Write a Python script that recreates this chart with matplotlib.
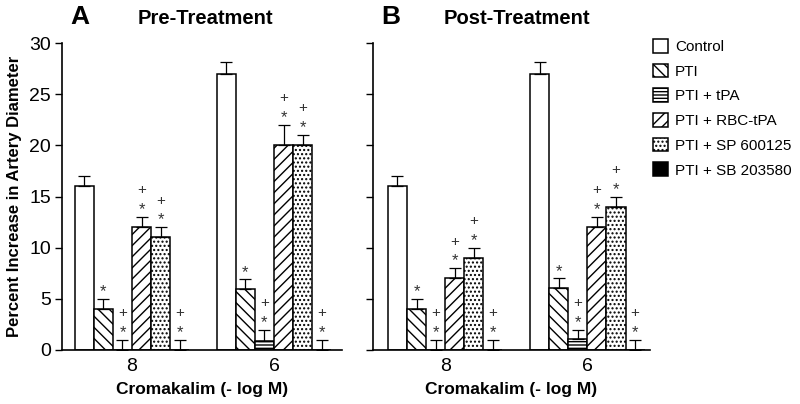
import matplotlib
matplotlib.use("Agg")
import matplotlib.pyplot as plt
import numpy as np

plt.rcParams['font.family'] = ['Liberation Sans', 'DejaVu Sans']
plt.rcParams['hatch.linewidth'] = 1.0

# data
doses = ['8', '6']
groups = ['Control', 'PTI', 'PTI + tPA', 'PTI + RBC-tPA', 'PTI + SP 600125', 'PTI + SB 203580']
pre_mean = [[16, 4, 0, 12, 11, 0],
            [27, 6, 0.9, 20, 20, 0]]
pre_err = [[1, 1, 1, 1, 1, 1],
           [1.1, 0.9, 1.1, 2, 1, 1]]
post_mean = [[16, 4, 0, 7, 9, 0],
             [27, 6.1, 1.1, 12, 14, 0]]
post_err = [[1, 1, 1, 1, 1, 1],
            [1.1, 0.9, 0.9, 1, 1, 1]]
# significance marks per bar: '' , '*', or '*+'
marks = ['', '*', '*+', '*+', '*+', '*+']

hatches = ['', '\\\\\\', '-----', '///', '....', '']
faces = ['white', 'white', 'white', 'white', 'white', 'black']

fig = plt.figure(figsize=(8, 4.04), dpi=100)
axA = fig.add_axes([62/800, 1-350/404, 280/800, 307/404])
axB = fig.add_axes([373/800, 1-350/404, 277/800, 307/404])

w = 0.134


def draw(ax, means, errs, xlim):
    xg = np.arange(len(doses))
    for i in range(len(groups)):
        xs = xg + (i - 2.5) * w
        vals = [means[g][i] for g in range(len(doses))]
        ev = [errs[g][i] for g in range(len(doses))]
        ax.bar(xs, vals, width=w, facecolor=faces[i], edgecolor='black',
               hatch=hatches[i], linewidth=1.1, label=groups[i], zorder=2)
        ax.errorbar(xs, vals, yerr=[[0]*len(vals), ev], fmt='none',
                    ecolor='black', elinewidth=0.9, capsize=4, capthick=0.9, zorder=3)
        for x, v, e in zip(xs, vals, ev):
            top = v + e
            if '*' in marks[i]:
                ax.text(x, top + 0.7, '*', ha='center', va='center', fontsize=12, color='#333333')
            if '+' in marks[i]:
                ax.text(x, top + 2.6, '+', ha='center', va='center', fontsize=11, color='#333333')
    ax.set_xlim(*xlim)
    ax.set_ylim(0, 30)
    ax.set_yticks([0, 5, 10, 15, 20, 25, 30])
    ax.set_xticks(xg)
    ax.set_xticklabels(doses, fontsize=14)
    ax.tick_params(axis='x', length=0, pad=6)
    ax.tick_params(axis='y', direction='out', length=5, width=1.0, labelsize=14, pad=3)
    ax.spines['top'].set_visible(False)
    ax.spines['right'].set_visible(False)
    ax.spines['left'].set_linewidth(1.2)
    ax.spines['bottom'].set_linewidth(1.2)
    ax.set_xlabel('Cromakalim (- log M)', fontsize=12.5, fontweight='bold', labelpad=5)


draw(axA, pre_mean, pre_err, (-0.493, 1.479))
draw(axB, post_mean, post_err, (-0.507, 1.44))
axB.set_yticklabels([])
axA.set_ylabel('Percent Increase in Artery Diameter', fontsize=12, fontweight='bold', labelpad=5)

fig.text(80/800, 1-17/404, 'A', fontsize=19, fontweight='bold', ha='center', va='center')
fig.text(205/800, 1-18/404, 'Pre-Treatment', fontsize=14.5, fontweight='bold', ha='center', va='center')
fig.text(391/800, 1-17/404, 'B', fontsize=19, fontweight='bold', ha='center', va='center')
fig.text(517/800, 1-18/404, 'Post-Treatment', fontsize=14.5, fontweight='bold', ha='center', va='center')

handles, labels = axA.get_legend_handles_labels()
fig.legend(handles, labels, loc='upper left', bbox_to_anchor=(653/800, 1-39/404),
           frameon=False, fontsize=11, handlelength=1.0, handleheight=1.0,
           handletextpad=0.45, labelspacing=0.63, borderpad=0, borderaxespad=0)

fig.savefig('out.png', dpi=100)
